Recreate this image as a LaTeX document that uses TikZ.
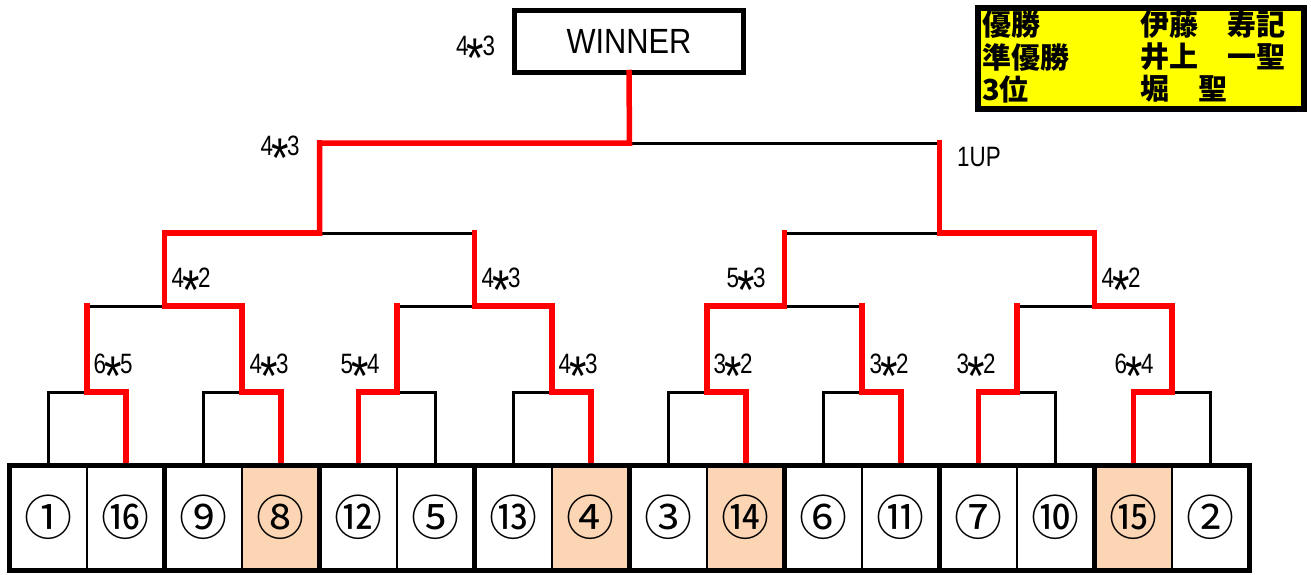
\documentclass[tikz,border=0pt]{standalone}
\usepackage{fontspec}
\usepackage{graphicx}
\setmainfont{Liberation Sans}
\newfontfamily\jpfont{Noto Sans CJK JP}
\newfontfamily\narrowfont[FakeStretch=0.8]{Liberation Sans}
\newfontfamily\winfont[FakeStretch=0.88]{Liberation Sans}
\usetikzlibrary{calc}
\definecolor{WinRed}{HTML}{FF0000}
\definecolor{SeedTan}{HTML}{FCD5B4}
\definecolor{BoardYellow}{HTML}{FFFF00}
\newcommand\vsmark{\kern-0.06em\raisebox{-0.8em}{\scalebox{2.0}{*}}\kern-0.06em}
\tikzset{
  seed/.style={draw,line width=2pt,minimum width=77.5pt,minimum height=105pt,inner sep=0pt,outer sep=0pt,font=\jpfont\fontsize{48}{48}\selectfont},
  pairbox/.style={draw,line width=5pt},
  bracketline/.style={black,line width=3pt,line cap=rect},
  winline/.style={WinRed,line width=5.5pt,line cap=rect,line join=miter},
  score/.style={font=\narrowfont\fontsize{28}{28}\selectfont,inner sep=0pt},
  winbox/.style={draw,fill=white,line width=5pt,minimum width=229pt,minimum height=62pt,outer sep=0pt,font=\winfont\fontsize{35}{35}\selectfont},
  board/.style={draw,fill=BoardYellow,line width=6pt,minimum width=326pt,minimum height=101pt},
  boardtxt/.style={anchor=west,inner sep=0pt,font=\jpfont\bfseries\fontsize{29}{29}\selectfont}
}

\begin{document}
\begin{tikzpicture}[x=1pt,y=-1pt]
  \useasboundingbox (0,0) rectangle (1311,574);

  \node[winbox] (winner) at (629,41.5) {WINNER};
  \node[board] (board) at (1141,58.5) {};
  \node[boardtxt] (first) at (982,25) {優勝};
  \node[boardtxt] (firstname) at (1140,25) {伊藤　寿記};
  \node[boardtxt] (second) at (982,57) {準優勝};
  \node[boardtxt] (secondname) at (1140,57) {井上　一聖};
  \node[boardtxt] (third) at (982,89) {3位};
  \node[boardtxt] (thirdname) at (1140,89) {堀　聖};

  \foreach \n/\c [count=\i from 0] in {①/white,⑯/white,⑨/white,⑧/SeedTan,⑫/white,⑤/white,⑬/white,④/SeedTan,③/white,⑭/SeedTan,⑥/white,⑪/white,⑦/white,⑩/white,⑮/SeedTan,②/white}
    \node[seed,fill=\c] (s\i) at (48.25+77.5*\i,517.5) {\n};

  \foreach \k in {0,...,7} \coordinate (a\k) at (87+155*\k,392);
  \foreach \k in {0,...,3} \coordinate (b\k) at (164.5+310*\k,306);
  \foreach \k in {0,1} \coordinate (c\k) at (319.5+620*\k,233);
  \coordinate (fin) at (629.5,143);

  \foreach \k in {0,...,7}{
    \pgfmathtruncatemacro\l{2*\k}
    \pgfmathtruncatemacro\r{2*\k+1}
    \draw[bracketline] (s\l.north) |- (a\k) -| (s\r.north);
  }
  \foreach \k in {0,...,3}{
    \pgfmathtruncatemacro\l{2*\k}
    \pgfmathtruncatemacro\r{2*\k+1}
    \draw[bracketline] (a\l) |- (b\k) -| (a\r);
  }
  \draw[bracketline] (b0) |- (c0) -| (b1);
  \draw[bracketline] (b2) |- (c1) -| (b3);
  \draw[bracketline] (c0) |- (fin) -| (c1);

  \foreach \w/\k in {1/0,3/1,4/2,7/3,9/4,11/5,12/6,14/7}
    \draw[winline] (s\w.north) |- (a\k) -- (a\k |- b0);
  \foreach \w/\k in {1/0,3/1,4/2,7/3}
    \draw[winline] (a\w) |- (b\k) -- (b\k |- c0);
  \draw[winline] (b0) |- (c0) -- (c0 |- fin);
  \draw[winline] (b3) |- (c1) -- (c1 |- fin);
  \draw[winline] (c0) |- (fin) -- (winner.south);

  \foreach \k in {0,...,7}{
    \pgfmathtruncatemacro\l{2*\k}
    \pgfmathtruncatemacro\r{2*\k+1}
    \draw[pairbox] (s\l.north west) rectangle (s\r.south east);
  }

  \node[score] (sa0) at (113,375) {6\vsmark5};
  \node[score] (sa1) at (269,375) {4\vsmark3};
  \node[score] (sa2) at (360,375) {5\vsmark4};
  \node[score] (sa3) at (578,375) {4\vsmark3};
  \node[score] (sa4) at (733,375) {3\vsmark2};
  \node[score] (sa5) at (889,375) {3\vsmark2};
  \node[score] (sa6) at (976,375) {3\vsmark2};
  \node[score] (sa7) at (1134,375) {6\vsmark4};
  \node[score] (sb0) at (191,289) {4\vsmark2};
  \node[score] (sb1) at (501,289) {4\vsmark3};
  \node[score] (sb2) at (746,289) {5\vsmark3};
  \node[score] (sb3) at (1121,289) {4\vsmark2};
  \node[score] (sc0) at (280,157) {4\vsmark3};
  \node[score] (sc1) at (979,157) {1UP};
  \node[score] (sfin) at (475.5,57) {4\vsmark3};
\end{tikzpicture}
\end{document}
